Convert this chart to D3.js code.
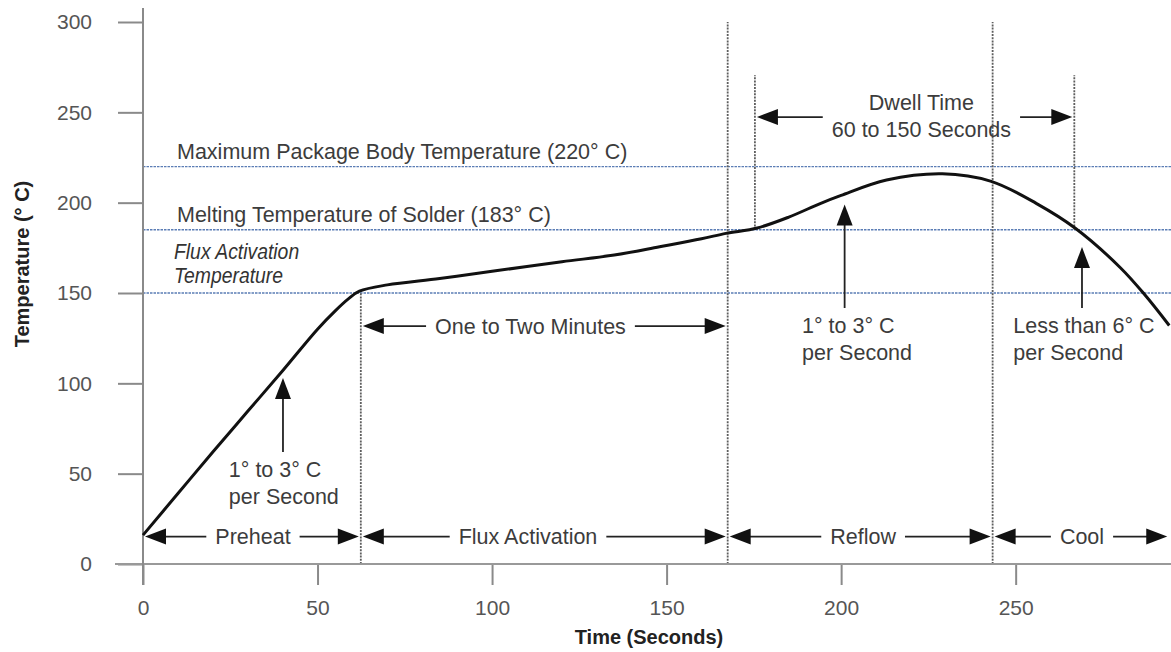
<!DOCTYPE html>
<meta charset="utf-8">
<head>
<style>
  body { margin: 0; background: #fff; font-family: 'Liberation Sans', Arial, sans-serif; }
  .ann { fill: #3c3c3c; font-size: 21.5px; font-family: 'Liberation Sans', Arial, sans-serif; }
  .tick text { fill: #555; font-size: 21px; font-family: 'Liberation Sans', Arial, sans-serif; }
  .title { fill: #222; font-size: 20px; font-weight: bold; font-family: 'Liberation Sans', Arial, sans-serif; }
</style>
</head>
<body>
<div id="chart"></div>
<script src="https://cdn.jsdelivr.net/npm/d3@7"></script>
<script>

// reflow profile
var timeS = [0, 10, 20, 30, 40, 50, 55, 59, 62, 70, 85, 100, 120, 135, 148, 160, 167, 176, 185, 194, 200, 213, 229, 243, 256, 267, 280, 287, 294];
var tempC = [16, 39, 62, 84.5, 107, 130, 140, 147, 151, 154.5, 158, 162, 167.3, 171, 175.6, 180, 183, 186, 192, 199.5, 204, 212.5, 216, 211.8, 199.5, 186, 164, 149, 132];

var xTicks = [0, 50, 100, 150, 200, 250];
var yTicks = [0, 50, 100, 150, 200, 250, 300];

// horizontal reference temperatures
var refTemps = [220, 185, 150];
var refLabels = ["Maximum Package Body Temperature (220\u00b0 C)", "Melting Temperature of Solder (183\u00b0 C)"];

// phases along the bottom
var phaseBounds = [0, 62.4, 167.5, 243.4, 294];
var phaseNames = ["Preheat", "Flux Activation", "Reflow", "Cool"];
var phaseLabelT = [31.5, 110.3, 206.3, 269];
var phaseArrowTemp = 15.2;

// "one to two minutes" span
var soakSpan = [62.4, 167.5];
var soakTemp = 131.7;

// dwell time span
var dwellSpan = [175.3, 266.8];
var dwellTemp = 247.4;
var dwellTop = 270.5;
var dwellBottom = 185;

// ramp-rate arrows: time, tip temp, tail temp, text start time
var rateT = [40.1, 201, 269];
var rateTip = [102.9, 199, 175.4];
var rateTail = [62, 141.7, 141.7];
var rateTextT = [24.6, 188.8, 249.3];
var rateText = [["1\u00b0 to 3\u00b0 C", "per Second"], ["1\u00b0 to 3\u00b0 C", "per Second"], ["Less than 6\u00b0 C", "per Second"]];

var width = 1171, height = 652;

var svg = d3.select("#chart").append("svg")
  .attr("width", width)
  .attr("height", height);

var x = d3.scaleLinear().domain([0, 294.5]).range([143, 1171]);
var y = d3.scaleLinear().domain([0, 300]).range([564, 22]);

// blue dotted reference lines
svg.selectAll(".ref")
  .data(refTemps)
  .enter().append("line")
    .attr("x1", x(0)).attr("x2", width)
    .attr("y1", function(d) { return y(d) })
    .attr("y2", function(d) { return y(d) })
    .attr("stroke", "#5b7db5")
    .attr("stroke-width", 1.3)
    .attr("stroke-dasharray", "2.5,1");

svg.selectAll(".refLabel")
  .data(refLabels)
  .enter().append("text")
    .attr("class", "ann")
    .attr("x", x(0) + 34)
    .attr("y", function(d, i) { return y(refTemps[i]) - 8 })
    .text(function(d) { return d });

// flux activation temperature label (italic, narrow)
var fluxLbl = ["Flux Activation", "Temperature"];
fluxLbl.forEach(function(s, i) {
  svg.append("text")
    .attr("class", "ann")
    .attr("transform", "translate(" + (x(0) + 31) + "," + (y(150) - 34 + i * 24) + ") scale(0.88,1)")
    .style("font-style", "italic")
    .style("font-size", "22px")
    .style("fill", "#333")
    .text(s);
});

// vertical dotted markers
function vDotted(t, t0, t1) {
  svg.append("line")
    .attr("x1", x(t)).attr("x2", x(t))
    .attr("y1", y(t0)).attr("y2", y(t1))
    .attr("stroke", "#5e5e5e")
    .attr("stroke-width", 1.8)
    .attr("stroke-dasharray", "2,1.2");
}
vDotted(phaseBounds[1], 0, 150);
vDotted(phaseBounds[2], 0, 300);
vDotted(phaseBounds[3], 0, 300);
dwellSpan.forEach(function(t) { vDotted(t, dwellBottom, dwellTop) });

// axes
var yAxis = svg.append("g")
  .attr("transform", "translate(" + x(0) + ",0)")
  .call(d3.axisLeft(y).tickValues(yTicks).tickSize(25).tickPadding(26));
yAxis.select(".domain").remove();
yAxis.selectAll(".tick line").attr("stroke", "#8a8a8a").attr("stroke-width", 2);

var xAxis = svg.append("g")
  .attr("transform", "translate(0," + y(0) + ")")
  .call(d3.axisBottom(x).tickValues(xTicks).tickSize(21).tickPadding(15));
xAxis.select(".domain").remove();
xAxis.selectAll(".tick line").attr("stroke", "#8a8a8a").attr("stroke-width", 2);

svg.append("line")
  .attr("x1", 115).attr("x2", width)
  .attr("y1", y(0)).attr("y2", y(0))
  .attr("stroke", "#999").attr("stroke-width", 2);
svg.append("line")
  .attr("x1", x(0)).attr("x2", x(0))
  .attr("y1", y(300) - 14).attr("y2", y(0) + 21)
  .attr("stroke", "#8a8a8a").attr("stroke-width", 2);

// the profile curve
var line = d3.line()
  .x(function(d, i) { return x(timeS[i]) })
  .y(function(d) { return y(d) })
  .curve(d3.curveCatmullRom.alpha(0.5));

svg.append("path")
  .attr("d", line(tempC))
  .attr("fill", "none")
  .attr("stroke", "#111")
  .attr("stroke-width", 3);

// arrow helpers
function head(g, px, py, dir) {
  var L = 21, H = 8, p;
  if (dir == "left") p = [[px, py], [px + L, py - H], [px + L, py + H]];
  else if (dir == "right") p = [[px, py], [px - L, py - H], [px - L, py + H]];
  else p = [[px, py], [px - H, py + L], [px + H, py + L]];
  g.append("path").attr("d", "M" + p.join("L") + "Z").attr("fill", "#111");
}

function hArrow(t0, t1, temp, lines, centerT) {
  var x0 = x(t0) + 2, x1 = x(t1) - 2, yy = y(temp);
  var xm = centerT == null ? (x0 + x1) / 2 : x(centerT);
  var g = svg.append("g");
  var w = 0;
  lines.forEach(function(s, i) {
    var t = g.append("text")
      .attr("class", "ann")
      .attr("x", xm)
      .attr("text-anchor", "middle")
      .text(s);
    if (lines.length == 1) t.attr("y", yy).attr("dy", "0.36em");
    else t.attr("y", i == 0 ? yy - 7 : yy + 20);
    w = Math.max(w, t.node().getComputedTextLength());
  });
  var gap = 9;
  g.append("line")
    .attr("x1", x0 + 5).attr("x2", xm - w / 2 - gap)
    .attr("y1", yy).attr("y2", yy)
    .attr("stroke", "#222").attr("stroke-width", 1.8);
  g.append("line")
    .attr("x1", xm + w / 2 + gap).attr("x2", x1 - 5)
    .attr("y1", yy).attr("y2", yy)
    .attr("stroke", "#222").attr("stroke-width", 1.8);
  head(g, x0, yy, "left");
  head(g, x1, yy, "right");
}

phaseNames.forEach(function(name, i) {
  hArrow(phaseBounds[i], phaseBounds[i + 1], phaseArrowTemp, [name], phaseLabelT[i]);
});
hArrow(soakSpan[0], soakSpan[1], soakTemp, ["One to Two Minutes"], 111);
hArrow(dwellSpan[0], dwellSpan[1], dwellTemp, ["Dwell Time", "60 to 150 Seconds"], 223);

// ramp-rate arrows
rateT.forEach(function(t, i) {
  var g = svg.append("g");
  var px = x(t), tip = y(rateTip[i]), tail = y(rateTail[i]);
  g.append("line")
    .attr("x1", px).attr("x2", px)
    .attr("y1", tip + 10).attr("y2", tail)
    .attr("stroke", "#222").attr("stroke-width", 1.8);
  head(g, px, tip, "up");
  rateText[i].forEach(function(s, j) {
    g.append("text")
      .attr("class", "ann")
      .attr("x", x(rateTextT[i]))
      .attr("y", tail + 25 + j * 27)
      .text(s);
  });
});

// axis titles
svg.append("text")
  .attr("class", "title")
  .attr("text-anchor", "middle")
  .attr("transform", "translate(29,264) rotate(-90)")
  .text("Temperature (\u00b0 C)");

svg.append("text")
  .attr("class", "title")
  .attr("text-anchor", "middle")
  .attr("x", 649)
  .attr("y", 644)
  .text("Time (Seconds)");

</script>
</body>
